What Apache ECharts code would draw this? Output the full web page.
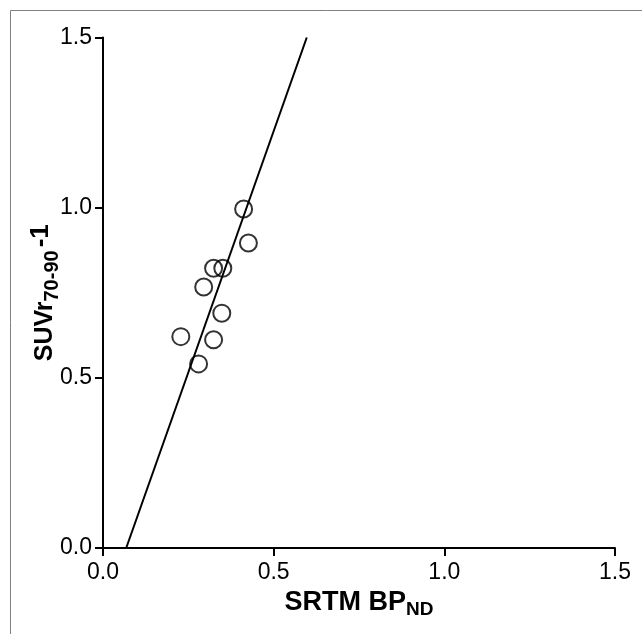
<!DOCTYPE html>
<html><head><meta charset="utf-8">
<script src="https://cdn.jsdelivr.net/npm/echarts@6/dist/echarts.min.js"></script>
<style>html,body{margin:0;padding:0;background:#fff}#c{width:642px;height:634px}</style>
</head><body><div id="c"></div>
<script>
const xValues = [0.412, 0.426, 0.324, 0.351, 0.295, 0.348, 0.228, 0.324, 0.280];
const yValues = [0.996, 0.896, 0.822, 0.822, 0.767, 0.690, 0.621, 0.612, 0.541];
const fitX = [0.068, 0.597];
const fitY = [0.0, 1.5];

const chart = echarts.init(document.getElementById('c'), null, {renderer: 'canvas'});
const font = 'Liberation Sans, Arial, sans-serif';
chart.setOption({
  animation: false,
  graphic: [{type: 'rect', shape: {x: 10.5, y: 10.5, width: 700, height: 700}, style: {fill: 'none', stroke: '#808080', lineWidth: 1}}],
  grid: {left: 103, right: 27, top: 37.5, bottom: 86},
  xAxis: {
    type: 'value', min: 0, max: 1.5, interval: 0.5,
    axisLine: {lineStyle: {color: '#000', width: 2}},
    axisTick: {show: true, length: 8, lineStyle: {color: '#000', width: 2}},
    splitLine: {show: false},
    axisLabel: {color: '#000', fontSize: 23, fontFamily: font, margin: 13, formatter: v => v.toFixed(1)},
    name: '{a|SRTM BP}{b|ND}', nameLocation: 'middle', nameGap: 38,
    nameTextStyle: {rich: {
      a: {fontSize: 27, fontWeight: 'bold', fontFamily: font, color: '#000'},
      b: {fontSize: 19, fontWeight: 'bold', fontFamily: font, color: '#000', verticalAlign: 'bottom', padding: [14, 0, 0, 0]}
    }}
  },
  yAxis: {
    type: 'value', min: 0, max: 1.5, interval: 0.5,
    axisLine: {show: true, lineStyle: {color: '#000', width: 2}},
    axisTick: {show: true, length: 8, lineStyle: {color: '#000', width: 2}},
    splitLine: {show: false},
    axisLabel: {color: '#000', fontSize: 23, fontFamily: font, margin: 11, formatter: v => v.toFixed(1)},
    name: '{a|SUVr}{b|70-90}{c|-1}', nameLocation: 'middle', nameGap: 41, nameRotate: 90,
    nameMoveOverlap: false,
    nameTextStyle: {rich: {
      a: {fontSize: 25, fontWeight: 'bold', fontFamily: font, color: '#000'},
      b: {fontSize: 20, fontWeight: 'bold', fontFamily: font, color: '#000', verticalAlign: 'bottom', padding: [14, 0, 0, 0]},
      c: {fontSize: 26, fontWeight: 'bold', fontFamily: font, color: '#000', verticalAlign: 'top', padding: [0, 0, 6, 3]}
    }}
  },
  series: [
    {
      type: 'line', data: fitX.map((x, i) => [x, fitY[i]]), showSymbol: false, symbol: 'none',
      lineStyle: {color: '#000', width: 2}, z: 2
    },
    {
      type: 'scatter', data: xValues.map((x, i) => [x, yValues[i]]), symbol: 'circle', symbolSize: 17,
      itemStyle: {color: 'rgba(255,255,255,0)', borderColor: '#000', borderWidth: 2}, z: 3
    }
  ]
});
</script></body></html>
